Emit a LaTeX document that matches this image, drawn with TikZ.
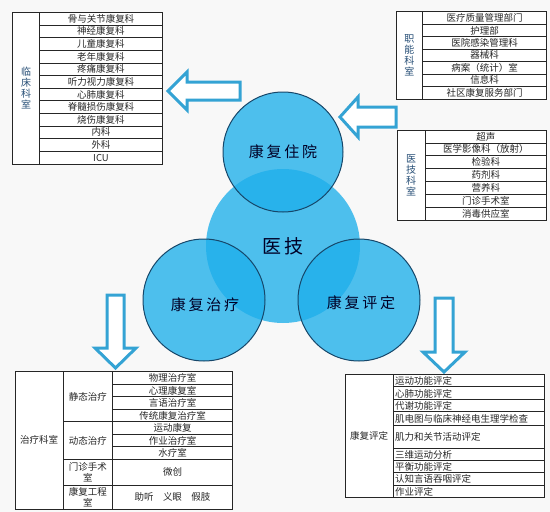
\documentclass[tikz,border=0pt]{standalone}
\usepackage{fontspec}
\setmainfont{Noto Sans CJK SC}
\newfontfamily\ringfont[LetterSpace=18]{Noto Sans CJK SC}
\definecolor{bubble}{RGB}{30,175,235}
\definecolor{rim}{RGB}{22,70,105}
\definecolor{hollow}{RGB}{52,163,212}
\definecolor{tag}{RGB}{38,78,118}
\definecolor{paper}{RGB}{248,248,248}
\tikzset{
  grid/.style={draw=black!85, line width=0.6pt},
  cell/.style={inner sep=0pt, font=\fontsize{9.5}{11}\selectfont, text=black!85},
  tagcell/.style={inner sep=0pt, align=center, font=\fontsize{10}{11}\selectfont, text=tag},
  ring/.style={circle, inner sep=0pt, fill=bubble, fill opacity=0.78, text opacity=1, text=black!85!blue, font=\ringfont\fontsize{15}{17}\selectfont},
  blockarrow/.style={draw=hollow, fill=white, line width=3pt, line join=miter}
}

\begin{document}
\begin{tikzpicture}[x=1pt, y=-1pt]
  \fill[paper] (0,0) rectangle (550,512);
  \useasboundingbox (0,0) rectangle (550,512);

  % circles
  \node[ring, minimum size=154pt, font=\ringfont\fontsize{19}{21}\selectfont] (yj) at (283,246) {医技};
  \node[ring, draw=rim, line width=1pt, minimum size=120pt] (zy) at (283,152) {康复住院};
  \node[ring, draw=rim, line width=1pt, minimum size=122pt] (zl) at (204,300) {};
  \node[ring, draw=rim, line width=1pt, minimum size=122pt] (pd) at (359,300) {};
  \node[ring, fill=none] (zltext) at (205,305) {康复治疗};
  \node[ring, fill=none] (pdtext) at (361,303) {康复评定};

  % hollow arrows
  \draw[blockarrow] (240,82) -- (187,82) -- (187,72) -- (168,91) -- (187,110) -- (187,100) -- (240,100) -- cycle;
  \draw[blockarrow] (396,107) -- (358,107) -- (358,97) -- (340,117) -- (358,137) -- (358,127) -- (396,127) -- cycle;
  \draw[blockarrow] (107,295) -- (107,348) -- (95,348) -- (115.5,368) -- (136,348) -- (124,348) -- (124,295) -- cycle;
  \draw[blockarrow] (435,298) -- (435,352) -- (423,352) -- (444,372) -- (465,352) -- (453,352) -- (453,298) -- cycle;

  % clinical departments
  \draw[grid, fill=white] (12.7,12.3) rectangle (162.7,164);
  \draw[grid] (39.3,12.3) -- (39.3,164);
  \node[tagcell] (lc) at (26,88) {临\\床\\科\\室};
  \foreach \t [count=\i] in {骨与关节康复科,神经康复科,儿童康复科,老年康复科,疼痛康复科,听力视力康复科,心肺康复科,脊髓损伤康复科,烧伤康复科,内科,外科,ICU}
    \node[cell] (lc\i) at (101,{12.3+12.64*(\i-0.5)}) {\t};
  \foreach \i in {1,...,11}
    \draw[grid] (39.3,{12.3+12.64*\i}) -- (162.7,{12.3+12.64*\i});

  % functional departments
  \draw[grid, fill=white] (396,11.7) rectangle (546.7,99);
  \draw[grid] (422.7,11.7) -- (422.7,99);
  \node[tagcell] (zn) at (409.3,55) {职\\能\\科\\室};
  \foreach \t [count=\i] in {医疗质量管理部门,护理部,医院感染管理科,器械科,病案（统计）室,信息科,社区康复服务部门}
    \node[cell] (zn\i) at (484.7,{11.7+12.47*(\i-0.5)}) {\t};
  \foreach \i in {1,...,6}
    \draw[grid] (422.7,{11.7+12.47*\i}) -- (546.7,{11.7+12.47*\i});

  % medical technology departments
  \draw[grid, fill=white] (397.3,130) rectangle (546.7,220);
  \draw[grid] (425,130) -- (425,220);
  \node[tagcell] (yk) at (411.2,175) {医\\技\\科\\室};
  \foreach \t [count=\i] in {超声,医学影像科（放射）,检验科,药剂科,营养科,门诊手术室,消毒供应室}
    \node[cell] (yk\i) at (485.8,{130+12.86*(\i-0.5)}) {\t};
  \foreach \i in {1,...,6}
    \draw[grid] (425,{130+12.86*\i}) -- (546.7,{130+12.86*\i});

  % therapy departments
  \draw[grid, fill=white] (15,371.7) rectangle (232.7,509);
  \draw[grid] (63.3,371.7) -- (63.3,509);
  \draw[grid] (112.3,371.7) -- (112.3,509);
  \foreach \y in {384,396.7,409.3,434.3,446.7}
    \draw[grid] (112.3,\y) -- (232.7,\y);
  \foreach \y in {421.7,459.3,485}
    \draw[grid] (63.3,\y) -- (232.7,\y);
  \node[cell] (zlks) at (39.2,440.3) {治疗科室};
  \node[cell] (jt) at (87.8,396.7) {静态治疗};
  \node[cell] (dt) at (87.8,440.5) {动态治疗};
  \node[cell, align=center] (mz) at (87.8,472.2) {门诊手术\\室};
  \node[cell, align=center] (gc) at (87.8,497) {康复工程\\室};
  \foreach \t/\y [count=\i] in {物理治疗室/377.9,心理康复室/390.4,言语治疗室/403,传统康复治疗室/415.5,运动康复/428,作业治疗室/440.5,水疗室/453,微创/472.2}
    \node[cell] (zl\i) at (172.5,\y) {\t};
  \node[cell] (fj) at (172.5,497) {助听\quad 义眼\quad 假肢};

  % assessment
  \draw[grid, fill=white] (345,374.3) rectangle (544,497.7);
  \draw[grid] (393.3,374.3) -- (393.3,497.7);
  \foreach \y in {386.7,399.3,411.7,425,448.3,460,472.3,485}
    \draw[grid] (393.3,\y) -- (544,\y);
  \node[cell] (pdks) at (369.2,436) {康复评定};
  \foreach \t/\y [count=\i] in {运动功能评定/381,心肺功能评定/393.5,代谢功能评定/406,肌电图与临床神经电生理学检查/418.8,肌力和关节活动评定/437,三维运动分析/454.6,平衡功能评定/466.6,认知言语吞咽评定/479.1,作业评定/491.8}
    \node[cell, anchor=west] (pd\i) at (395,\y) {\t};
\end{tikzpicture}
\end{document}
